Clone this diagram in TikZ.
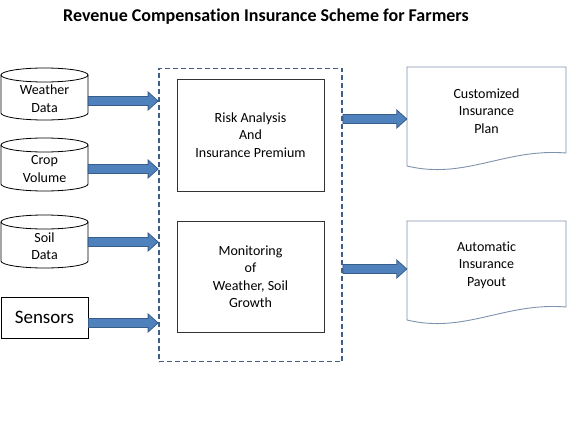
\documentclass[tikz,border=0pt]{standalone}
\usepackage{fontspec}
\setmainfont{Carlito}[Ligatures=NoCommon]
\usetikzlibrary{calc}
\definecolor{arrfill}{HTML}{4F81BD}
\definecolor{arrline}{HTML}{385D8A}
\definecolor{dashcol}{HTML}{3F5F87}
\definecolor{doccol}{HTML}{8093AE}
\tikzset{
  fatarr/.style={fill=arrfill,draw=arrline,line width=0.8pt},
  cylsty/.style={draw=black,line width=0.8pt},
  txt/.style={font=\fontsize{14}{17.5}\selectfont,align=center,inner sep=0pt},
  procbox/.style={draw=black!80,line width=0.9pt,txt},
  docsty/.style={draw=doccol,line width=0.9pt},
}
\newcommand\fatarrow[2]{\path[fatarr] let \p1=(#1), \p2=(#2) in
  (\x1,\y1+4.5pt) -- (\x2-10pt,\y1+4.5pt) -- (\x2-10pt,\y1+9pt) -- (\x2,\y1)
  -- (\x2-10pt,\y1-9pt) -- (\x2-10pt,\y1-4.5pt) -- (\x1,\y1-4.5pt) -- cycle;}
\newcommand\cylpath[2]{%
  \draw[cylsty] (1,#1+7) -- (1,#2-7) arc[start angle=180,end angle=360,x radius=43.5pt,y radius=7pt] -- (88,#1+7);
  \draw[cylsty] (44.5,#1+7) ellipse[x radius=43.5pt,y radius=7pt];}
\newcommand\docpath[1]{%
  \draw[docsty] (407,#1+166) -- (407,#1+67) -- (566,#1+67) -- (566,#1+153)
    .. controls (505,#1+148) and (465,#1+180) .. (407,#1+166);}
\begin{document}
\begin{tikzpicture}[x=1pt,y=-1pt]
\useasboundingbox[fill=white] (0,0) rectangle (580,433);
% title
\node[font=\fontsize{18}{22}\selectfont\bfseries,inner sep=0pt] (title) at (266,17) {Revenue Compensation Insurance Scheme for Farmers};
% inputs
\cylpath{68}{120}
\node[txt,minimum width=87pt] (weather) at (44.5,98.5) {Weather\\Data};
\cylpath{138}{191}
\node[txt,minimum width=87pt] (crop) at (44.5,169) {Crop\\Volume};
\cylpath{215}{268}
\node[txt,minimum width=87pt] (soil) at (44.5,246) {Soil\\Data};
\node[draw=black,line width=0.8pt,minimum width=87pt,minimum height=41pt,inner sep=0pt,font=\fontsize{19}{22}\selectfont] (sensors) at (44.5,317.5) {Sensors};
% dashed container
\node[draw=dashcol,line width=1.8pt,dash pattern=on 5pt off 3pt,minimum width=183pt,minimum height=293pt,inner sep=0pt] (dash) at (250.5,215) {};
\node[procbox,minimum width=147pt,minimum height=112pt] (box1) at (250.5,135) {Risk Analysis\\And\\Insurance Premium};
\node[procbox,minimum width=147pt,minimum height=111pt] (box2) at (250.5,276.5) {Monitoring\\of\\Weather, Soil\\Growth};
% outputs
\docpath{0}
\node[txt,minimum width=159pt] (doc1) at (486.5,111) {Customized\\Insurance\\Plan};
\docpath{154}
\node[txt,minimum width=159pt] (doc2) at (486.5,265) {Automatic\\Insurance\\Payout};
% arrows
\fatarrow{[yshift=-2.5pt]weather.east}{dash.west}
\fatarrow{crop.east}{dash.west}
\fatarrow{[yshift=4pt]soil.east}{dash.west}
\fatarrow{[yshift=-5.5pt]sensors.east}{dash.west}
\fatarrow{[yshift=96pt]dash.east}{doc1.west}
\fatarrow{[yshift=-54pt]dash.east}{doc2.west}
\end{tikzpicture}
\end{document}
